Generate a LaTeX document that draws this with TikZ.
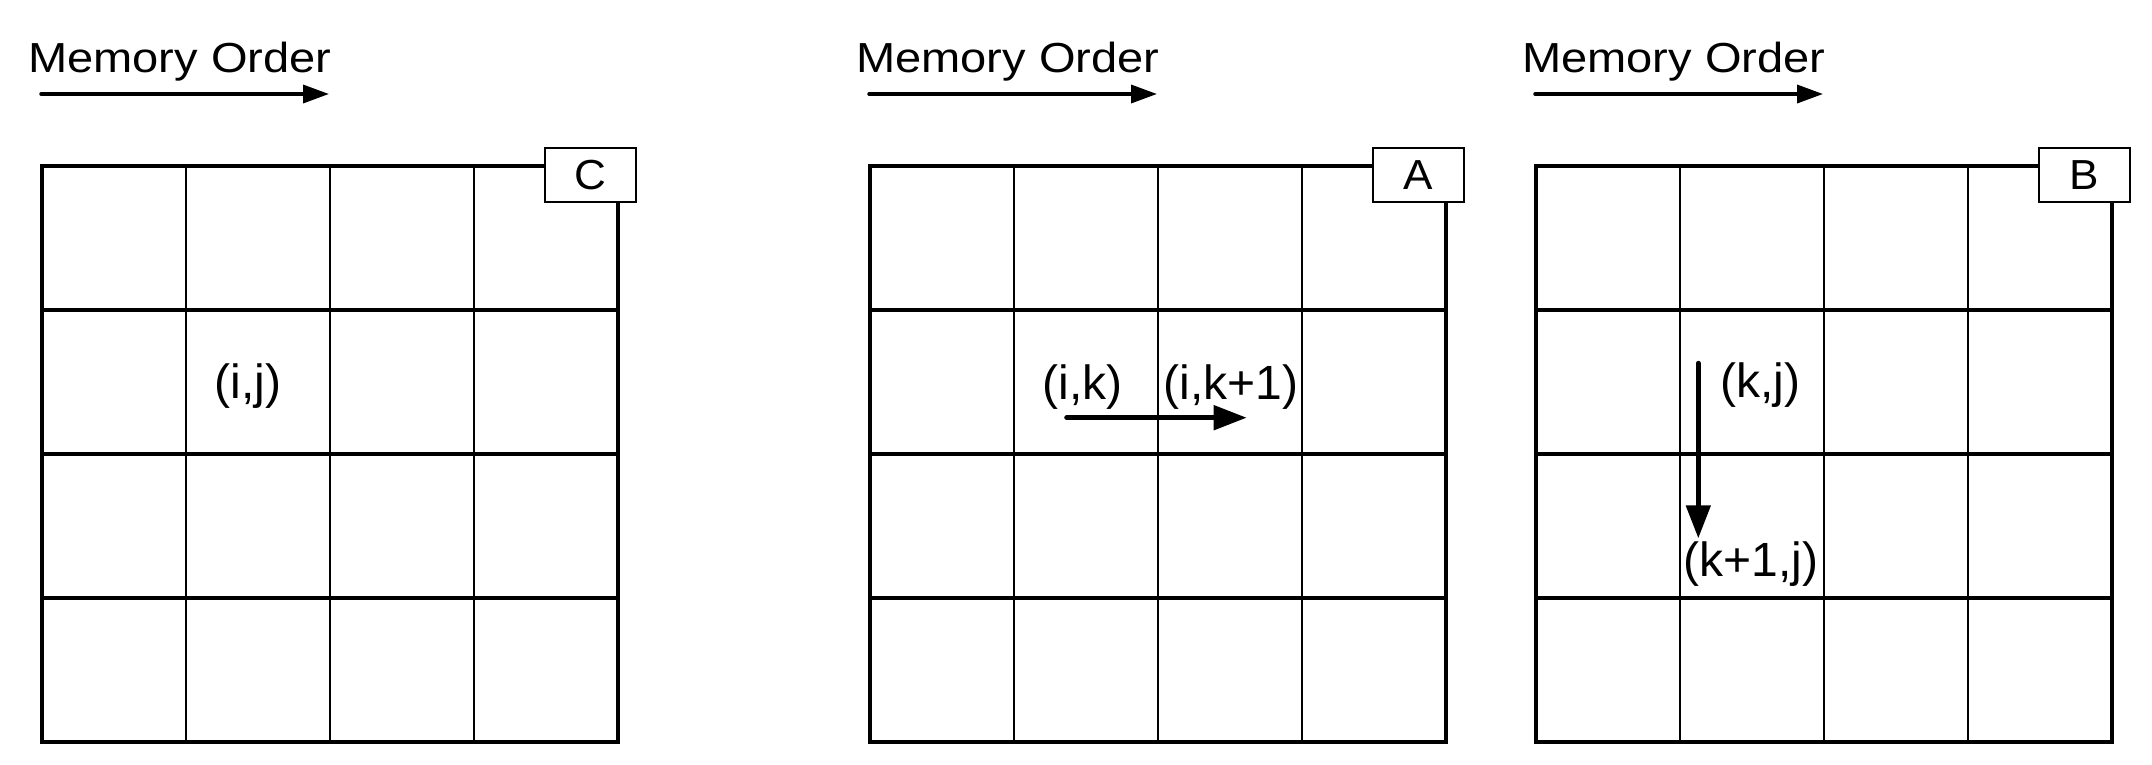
\documentclass[tikz,border=0pt]{standalone}
\usepackage{fontspec}
\setmainfont{Liberation Sans}
\usetikzlibrary{arrows.meta}
\tikzset{
  gridv/.style={line width=2.2pt},
  gridh/.style={line width=3.8pt},
  gridborder/.style={line width=4pt},
  labelbox/.style={draw, line width=1.6pt, fill=white, minimum width=91pt, minimum height=54pt, inner sep=0pt, font=\fontsize{42}{50}\selectfont},
  memtext/.style={anchor=base west, inner sep=0pt, font=\fontsize{42}{50}\selectfont},
  memarrow/.style={line width=3.5pt, line cap=round, -{Triangle[length=26pt,width=18pt]}},
  celltext/.style={inner sep=0pt, font=\fontsize{48}{56}\selectfont},
  cellarrow/.style={line width=5pt, line cap=round, -{Triangle[length=33pt,width=24pt]}},
}
\begin{document}
\begin{tikzpicture}[x=1pt,y=-1pt]
\useasboundingbox (0,0) rectangle (2152,764);
\fill[white] (0,0) rectangle (2152,764);
\foreach \L/\lab in {42/C,870/A,1536/B}{
  \foreach \i in {1,2,3}{
    \draw[gridv] ({\L+144*\i},166) -- ({\L+144*\i},742);
    \draw[gridh] (\L,{166+144*\i}) -- ({\L+576},{166+144*\i});
  }
  \draw[gridborder] (\L,166) rectangle ({\L+576},742);
  \node[labelbox] (box\lab) at ({\L+576-27.5},175) {\scalebox{1.05}[1]{\lab}};
  \node[memtext] (mem\lab) at ({\L-14},72) {\scalebox{1.12}[1]{Memory Order}};
  \coordinate (ms\lab) at ({\L-1},94);
  \coordinate (me\lab) at ({\L+287},94);
  \draw[memarrow] (ms\lab) -- (me\lab);
}
\node[celltext] (ij) at (248,386) {(i,j)};
\node[celltext] (ik) at (1082.5,386.7) {(i,k)};
\node[celltext] (ik1) at (1231,386.7) {(i,k+1)};
\coordinate (a1) at (1066.7,417.7);
\coordinate (a2) at (1246.7,417.7);
\draw[cellarrow] (a1) -- (a2);
\node[celltext] (kj) at (1760,384.7) {(k,j)};
\node[celltext] (k1j) at (1751,563.8) {(k+1,j)};
\coordinate (b1) at (1698.3,363.3);
\coordinate (b2) at (1698.3,538.3);
\draw[cellarrow] (b1) -- (b2);
\end{tikzpicture}
\end{document}
